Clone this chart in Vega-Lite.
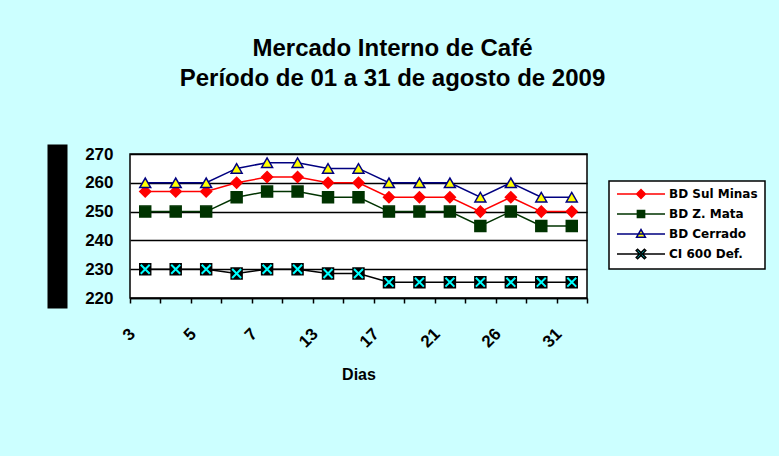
{
  "$schema": "https://vega.github.io/schema/vega-lite/v6.json",
  "width": 457,
  "height": 144,
  "autosize": {"type": "none"},
  "padding": {"left": 130, "top": 154, "right": 192, "bottom": 158},
  "background": "#CCFFFF",
  "view": {"fill": "white", "stroke": "black", "strokeWidth": 1.5},
  "title": {
    "text": ["Mercado Interno  de Café", "Período de 01 a 31 de agosto de 2009"],
    "font": "Liberation Sans", "fontSize": 24, "fontWeight": "bold", "color": "black",
    "anchor": "middle", "frame": "group", "dx": 34, "offset": 54, "lineHeight": 30
  },
  "config": {
    "legend": {
      "padding": 7, "fillColor": "white", "strokeColor": "black", "strokeWidth": 1.5,
      "labelFont": "DejaVu Sans", "labelFontSize": 12, "labelFontWeight": "bold", "labelColor": "black",
      "rowPadding": 5, "symbolOffset": 19, "labelOffset": 22, "symbolStrokeWidth": 1.5, "symbolSize": 64
    }
  },
  "data": {"values": [
    {"dia": 3, "serie": "BD Sul Minas", "preco": 257},
    {"dia": 4, "serie": "BD Sul Minas", "preco": 257},
    {"dia": 5, "serie": "BD Sul Minas", "preco": 257},
    {"dia": 6, "serie": "BD Sul Minas", "preco": 260},
    {"dia": 7, "serie": "BD Sul Minas", "preco": 262},
    {"dia": 10, "serie": "BD Sul Minas", "preco": 262},
    {"dia": 13, "serie": "BD Sul Minas", "preco": 260},
    {"dia": 14, "serie": "BD Sul Minas", "preco": 260},
    {"dia": 17, "serie": "BD Sul Minas", "preco": 255},
    {"dia": 19, "serie": "BD Sul Minas", "preco": 255},
    {"dia": 21, "serie": "BD Sul Minas", "preco": 255},
    {"dia": 24, "serie": "BD Sul Minas", "preco": 250},
    {"dia": 26, "serie": "BD Sul Minas", "preco": 255},
    {"dia": 28, "serie": "BD Sul Minas", "preco": 250},
    {"dia": 31, "serie": "BD Sul Minas", "preco": 250},
    {"dia": 3, "serie": "BD Z. Mata", "preco": 250},
    {"dia": 4, "serie": "BD Z. Mata", "preco": 250},
    {"dia": 5, "serie": "BD Z. Mata", "preco": 250},
    {"dia": 6, "serie": "BD Z. Mata", "preco": 255},
    {"dia": 7, "serie": "BD Z. Mata", "preco": 257},
    {"dia": 10, "serie": "BD Z. Mata", "preco": 257},
    {"dia": 13, "serie": "BD Z. Mata", "preco": 255},
    {"dia": 14, "serie": "BD Z. Mata", "preco": 255},
    {"dia": 17, "serie": "BD Z. Mata", "preco": 250},
    {"dia": 19, "serie": "BD Z. Mata", "preco": 250},
    {"dia": 21, "serie": "BD Z. Mata", "preco": 250},
    {"dia": 24, "serie": "BD Z. Mata", "preco": 245},
    {"dia": 26, "serie": "BD Z. Mata", "preco": 250},
    {"dia": 28, "serie": "BD Z. Mata", "preco": 245},
    {"dia": 31, "serie": "BD Z. Mata", "preco": 245},
    {"dia": 3, "serie": "BD Cerrado", "preco": 260},
    {"dia": 4, "serie": "BD Cerrado", "preco": 260},
    {"dia": 5, "serie": "BD Cerrado", "preco": 260},
    {"dia": 6, "serie": "BD Cerrado", "preco": 265},
    {"dia": 7, "serie": "BD Cerrado", "preco": 267},
    {"dia": 10, "serie": "BD Cerrado", "preco": 267},
    {"dia": 13, "serie": "BD Cerrado", "preco": 265},
    {"dia": 14, "serie": "BD Cerrado", "preco": 265},
    {"dia": 17, "serie": "BD Cerrado", "preco": 260},
    {"dia": 19, "serie": "BD Cerrado", "preco": 260},
    {"dia": 21, "serie": "BD Cerrado", "preco": 260},
    {"dia": 24, "serie": "BD Cerrado", "preco": 255},
    {"dia": 26, "serie": "BD Cerrado", "preco": 260},
    {"dia": 28, "serie": "BD Cerrado", "preco": 255},
    {"dia": 31, "serie": "BD Cerrado", "preco": 255},
    {"dia": 3, "serie": "CI 600 Def.", "preco": 230},
    {"dia": 4, "serie": "CI 600 Def.", "preco": 230},
    {"dia": 5, "serie": "CI 600 Def.", "preco": 230},
    {"dia": 6, "serie": "CI 600 Def.", "preco": 228.5},
    {"dia": 7, "serie": "CI 600 Def.", "preco": 230},
    {"dia": 10, "serie": "CI 600 Def.", "preco": 230},
    {"dia": 13, "serie": "CI 600 Def.", "preco": 228.5},
    {"dia": 14, "serie": "CI 600 Def.", "preco": 228.5},
    {"dia": 17, "serie": "CI 600 Def.", "preco": 225.5},
    {"dia": 19, "serie": "CI 600 Def.", "preco": 225.5},
    {"dia": 21, "serie": "CI 600 Def.", "preco": 225.5},
    {"dia": 24, "serie": "CI 600 Def.", "preco": 225.5},
    {"dia": 26, "serie": "CI 600 Def.", "preco": 225.5},
    {"dia": 28, "serie": "CI 600 Def.", "preco": 225.5},
    {"dia": 31, "serie": "CI 600 Def.", "preco": 225.5}
  ]},
  "encoding": {
    "x": {
      "field": "dia", "type": "ordinal", "bandPosition": 0.5,
      "scale": {"type": "band", "paddingInner": 0, "paddingOuter": 0},
      "axis": {
        "title": "Dias", "tickBand": "extent", "labelAngle": -45, "labelAlign": "right", "labelBaseline": "middle",
        "labelPadding": 28, "labelOffset": -13, "labelFont": "Liberation Sans", "labelFontSize": 17,
        "labelFontWeight": "bold", "labelColor": "black", "labelOverlap": false, "labelBound": false,
        "labelExpr": "indexof([3,5,7,13,17,21,26,31], datum.value) >= 0 ? datum.label : ''",
        "tickSize": 5, "tickColor": "black", "tickWidth": 1.5, "domainColor": "black", "domainWidth": 1.5,
        "grid": false, "titleFont": "Liberation Sans", "titleFontSize": 16, "titleFontWeight": "bold",
        "titleColor": "black", "titlePadding": 16
      }
    },
    "y": {
      "field": "preco", "type": "quantitative",
      "scale": {"domain": [220, 270], "nice": false, "zero": false},
      "axis": {
        "title": null, "values": [220, 230, 240, 250, 260, 270], "offset": 73,
        "domainWidth": 20, "domainColor": "black", "domainCap": "square",
        "ticks": false, "tickSize": 0, "labelPadding": -56,
        "labelFont": "Liberation Sans", "labelFontSize": 17, "labelFontWeight": "bold", "labelColor": "black",
        "labelBaseline": "middle", "grid": true, "gridColor": "black", "gridWidth": 1.5
      }
    }
  },
  "layer": [
    {
      "mark": {"type": "line", "strokeWidth": 1.5},
      "encoding": {
        "stroke": {"field": "serie", "type": "nominal",
          "scale": {"domain": ["BD Sul Minas", "BD Z. Mata", "BD Cerrado", "CI 600 Def."], "range": ["#FF0000", "#003300", "#000080", "#000000"]},
          "legend": null}
      }
    },
    {
      "mark": {"type": "point", "filled": true, "size": 120, "strokeWidth": 1.5, "opacity": 1},
      "encoding": {
        "shape": {"field": "serie", "type": "nominal",
          "scale": {"domain": ["BD Sul Minas", "BD Z. Mata", "BD Cerrado", "CI 600 Def."], "range": ["diamond", "square", "triangle-up", "square"]},
          "legend": null},
        "fill": {"field": "serie", "type": "nominal",
          "scale": {"domain": ["BD Sul Minas", "BD Z. Mata", "BD Cerrado", "CI 600 Def."], "range": ["#FF0000", "#003300", "#FFFF00", "#000000"]},
          "legend": null},
        "stroke": {"field": "serie", "type": "nominal",
          "scale": {"domain": ["BD Sul Minas", "BD Z. Mata", "BD Cerrado", "CI 600 Def."], "range": ["#FF0000", "#003300", "#000080", "#000000"]},
          "legend": null}
      }
    },
    {
      "transform": [{"filter": "datum.serie == 'CI 600 Def.'"}],
      "mark": {"type": "point", "shape": "M-1,-1L1,1M-1,1L1,-1", "size": 80, "stroke": "#00FFFF", "strokeWidth": 2, "filled": false, "opacity": 1}
    },
    {
      "transform": [{"filter": "false"}],
      "mark": {"type": "point", "filled": true, "size": 64, "strokeWidth": 1.5, "opacity": 1},
      "encoding": {
        "shape": {"field": "serie", "type": "nominal",
          "scale": {"domain": ["BD Sul Minas", "BD Z. Mata", "BD Cerrado", "CI 600 Def."],
            "range": ["M-6,0H6M-1.1,0L0,-1.1L1.1,0L0,1.1Z", "M-6,0H6M-0.9,-0.9H0.9V0.9H-0.9Z", "M-6,0H6M-1.1,0.8L0,-1.1L1.1,0.8Z", "M-6,0H6M-1.2,-0.85L-0.85,-1.2L0,-0.35L0.85,-1.2L1.2,-0.85L0.35,0L1.2,0.85L0.85,1.2L0,0.35L-0.85,1.2L-1.2,0.85L-0.35,0Z"]},
          "legend": {"title": null, "orient": "none", "legendX": 479, "legendY": 27}},
        "fill": {"field": "serie", "type": "nominal",
          "scale": {"domain": ["BD Sul Minas", "BD Z. Mata", "BD Cerrado", "CI 600 Def."], "range": ["#FF0000", "#003300", "#FFFF00", "#00FFFF"]},
          "legend": {"title": null, "orient": "none", "legendX": 479, "legendY": 27}},
        "stroke": {"field": "serie", "type": "nominal",
          "scale": {"domain": ["BD Sul Minas", "BD Z. Mata", "BD Cerrado", "CI 600 Def."], "range": ["#FF0000", "#003300", "#000080", "#000000"]},
          "legend": {"title": null, "orient": "none", "legendX": 479, "legendY": 27}}
      }
    }
  ],
  "resolve": {"scale": {"stroke": "independent", "fill": "independent", "shape": "independent"}}
}
